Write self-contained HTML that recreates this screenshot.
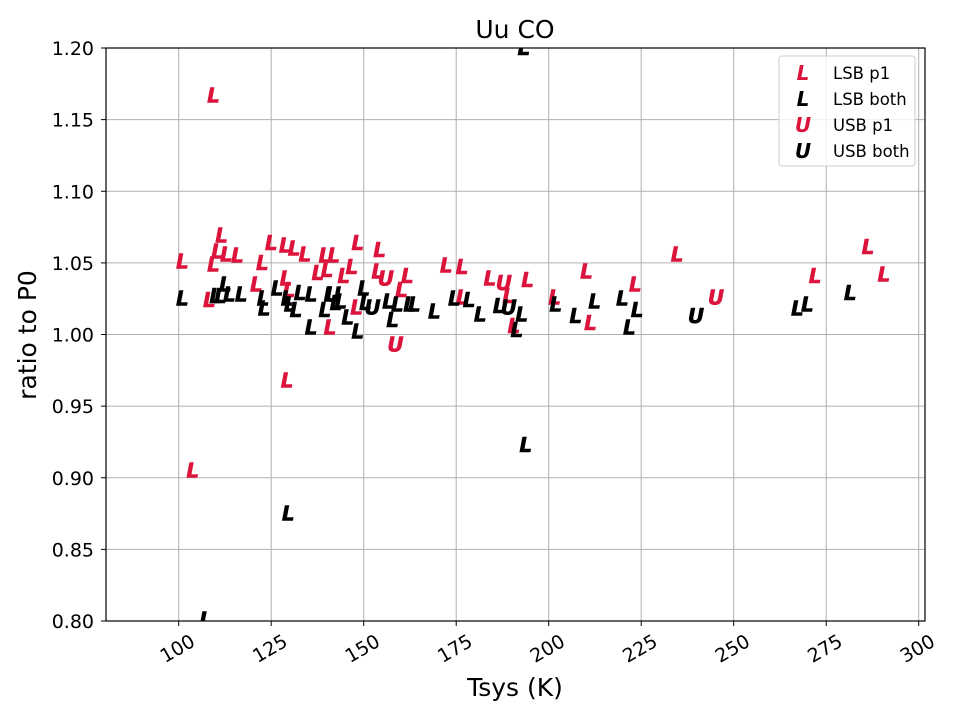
<!DOCTYPE html>
<html><head><meta charset="utf-8"><style>body{margin:0;background:#fff}svg{display:block;font-family:"DejaVu Sans","Liberation Sans",sans-serif}</style></head>
<body>
<svg id="chart" width="960" height="720" xmlns="http://www.w3.org/2000/svg">
<defs><clipPath id="pc"><rect x="106" y="48" width="819" height="573"/></clipPath></defs>
<rect x="0" y="0" width="960" height="720" fill="#fff"/>
<g id="grid"></g>
<g id="marks" clip-path="url(#pc)"></g>
<rect x="106" y="48" width="819" height="573" fill="none" stroke="#000" stroke-width="1.2"/>
<g id="axes"></g>
<text x="515" y="38" font-size="25" text-anchor="middle">Uu CO</text>
<text x="515" y="696" font-size="25" text-anchor="middle">Tsys (K)</text>
<text x="36" y="335" font-size="25" text-anchor="middle" transform="rotate(-90 36 335)">ratio to P0</text>
<g>
<rect x="779" y="56" width="136" height="110" rx="3" fill="#fff" fill-opacity="0.8" stroke="#ccc"/>
<g id="legend-items"></g>
</g>
</svg>
<script>
const xTicks=[100,125,150,175,200,225,250,275,300];
const yTicks=[0.80,0.85,0.90,0.95,1.00,1.05,1.10,1.15,1.20];
const lsbP1X=[101,109.4,109.4,108.3,103.8,111.6,110.5,112.9,115.9,121,122.6,125,128.8,131.2,129,129.8,129.3,134.1,137.6,139.5,140.1,141.9,140.9,144.6,146.8,148.4,148.1,154.3,153.8,160.2,161.8,172.3,176.6,176.6,184.1,189.2,194.3,190.6,201.6,210.2,211.3,223.4,234.7,272,286.3,290.6];
const lsbP1Y=[1.051,1.167,1.049,1.024,0.905,1.069,1.058,1.056,1.055,1.035,1.050,1.064,1.062,1.060,1.039,1.031,0.968,1.056,1.043,1.055,1.045,1.055,1.005,1.041,1.047,1.064,1.019,1.059,1.044,1.031,1.041,1.048,1.047,1.026,1.039,1.027,1.038,1.006,1.026,1.044,1.008,1.035,1.056,1.041,1.061,1.042];
const lsbBothX=[101,107.3,110,111.3,112.6,113.7,116.9,123.1,122.8,126.6,129.3,130.1,131.7,132.8,135.8,135.8,139.5,140.9,142.5,143.8,145.7,148.4,150,150.5,156.7,157.8,159.1,162.4,163.7,169.1,174.5,178.5,181.5,186.6,191.4,192.7,193.3,193.8,201.9,207.3,212.4,219.9,221.8,223.9,267.2,269.9,281.5,129.6];
const lsbBothY=[1.025,0.801,1.027,1.027,1.035,1.028,1.028,1.018,1.025,1.032,1.025,1.021,1.017,1.029,1.005,1.028,1.017,1.028,1.022,1.023,1.012,1.002,1.032,1.022,1.023,1.010,1.021,1.021,1.021,1.016,1.025,1.024,1.014,1.020,1.003,1.014,1.200,0.923,1.021,1.013,1.023,1.025,1.005,1.017,1.018,1.021,1.029,0.875];
const usbP1X=[156,187.9,158.6,245.2];
const usbP1Y=[1.039,1.036,0.993,1.026];
const usbBothX=[152.4,189.2,239.8,141.7];
const usbBothY=[1.019,1.019,1.013,1.028];
const NS='http://www.w3.org/2000/svg';
const X0=80.35,X1=301.7,Y0=0.8,Y1=1.2;
const sx=v=>106+(v-X0)/(X1-X0)*819;
const sy=v=>621-(v-Y0)/(Y1-Y0)*573;
function mk(t,a,p){const e=document.createElementNS(NS,t);for(const k in a)e.setAttribute(k,a[k]);p.appendChild(e);return e;}
const grid=document.getElementById('grid'),axes=document.getElementById('axes'),marks=document.getElementById('marks');
xTicks.forEach(v=>{const x=sx(v);
 const g=mk('line',{x1:x,x2:x,y1:48,y2:621,stroke:'#b0b0b0','stroke-width':1},grid);
 
 
 mk('line',{x1:x,x2:x,y1:621,y2:626,stroke:'#000'},axes);
 const t=mk('text',{x:x-1,y:655,'font-size':19,'text-anchor':'middle',transform:`rotate(-30 ${x-1} 649)`},axes);
 t.textContent=v;
 
 
});
yTicks.forEach(v=>{const y=sy(v);
 const g=mk('line',{x1:106,x2:925,y1:y,y2:y,stroke:'#b0b0b0','stroke-width':1},grid);
 
 
 mk('line',{x1:101,x2:106,y1:y,y2:y,stroke:'#000'},axes);
 const t=mk('text',{x:94,y:y+7,'font-size':19,'text-anchor':'end'},axes);
 t.textContent=v.toFixed(2);
 
 
});
function series(xs,ys,ch,col,name){xs.forEach((v,i)=>{
 const t=mk('text',{x:sx(v),y:sy(ys[i])+7,'font-size':20,'font-weight':'bold','font-style':'italic','text-anchor':'middle',fill:col,stroke:col,'stroke-width':0.6},marks);
 t.textContent=ch;
 
 
});}
series(lsbP1X,lsbP1Y,'L','#dc143c','lsb-p1-point');
series(lsbBothX,lsbBothY,'L','#000','lsb-both-point');
series(usbP1X,usbP1Y,'U','#dc143c','usb-p1-point');
series(usbBothX,usbBothY,'U','#000','usb-both-point');
const li=document.getElementById('legend-items');
[['L','#dc143c','LSB p1'],['L','#000','LSB both'],['U','#dc143c','USB p1'],['U','#000','USB both']].forEach((d,i)=>{
 const y=73+i*26;
 const m=mk('text',{x:803,y:y+7,'font-size':20,'font-weight':'bold','font-style':'italic','text-anchor':'middle',fill:d[1]},li);
 m.textContent=d[0];
 
 
 const t=mk('text',{x:833,y:y+6,'font-size':16.5},li);
 t.textContent=d[2];
 
 
});
</script>
</body></html>
